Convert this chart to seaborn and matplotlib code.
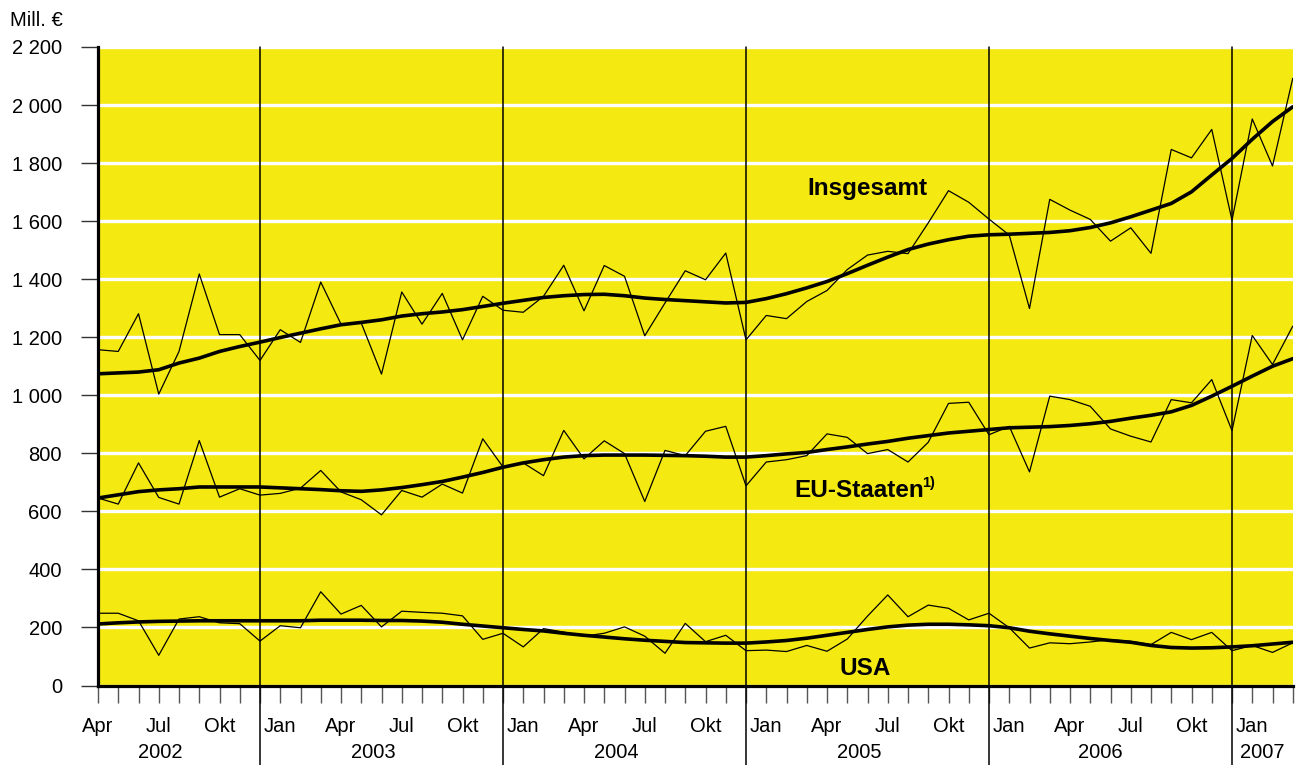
import numpy as np
import pandas as pd
import matplotlib
matplotlib.use("Agg")
import matplotlib.pyplot as plt
import matplotlib.transforms as mtransforms
import seaborn as sns

# ---------------- data ----------------
month_names = ["Jan", "Feb", "Mär", "Apr", "Mai", "Jun", "Jul", "Aug", "Sep", "Okt", "Nov", "Dez"]
labelled_months = ["Jan", "Apr", "Jul", "Okt"]
years = ["2002", "2003", "2004", "2005", "2006", "2007"]
start_month = 3  # April (0-based index into month_names)
start_year = 2002

ins_raw = [1157, 1151, 1281, 1004, 1151, 1418, 1209, 1209, 1120, 1226,
           1182, 1390, 1245, 1249, 1073, 1356, 1245, 1351, 1191, 1341,
           1293, 1286, 1341, 1448, 1291, 1447, 1410, 1205, 1318, 1429,
           1398, 1490, 1191, 1275, 1264, 1323, 1361, 1433, 1483, 1496,
           1488, 1594, 1705, 1665, 1607, 1552, 1299, 1675, 1638, 1606,
           1531, 1577, 1489, 1847, 1818, 1916, 1603, 1952, 1790, 2092]
ins_trend = [1074, 1077, 1080, 1088, 1111, 1128, 1151, 1168, 1183, 1199,
             1214, 1229, 1243, 1251, 1260, 1273, 1281, 1287, 1295, 1306,
             1317, 1327, 1337, 1343, 1347, 1348, 1343, 1335, 1330, 1326,
             1322, 1318, 1320, 1333, 1350, 1370, 1392, 1419, 1448, 1476,
             1502, 1521, 1536, 1548, 1553, 1555, 1558, 1561, 1567, 1578,
             1594, 1615, 1638, 1661, 1701, 1759, 1816, 1882, 1943, 1994]

eu_raw = [646, 625, 767, 648, 625, 844, 649, 678, 656, 662,
          680, 741, 667, 640, 588, 672, 649, 694, 663, 850,
          753, 767, 723, 879, 781, 843, 799, 634, 810, 792,
          876, 893, 688, 770, 778, 792, 867, 855, 799, 813,
          770, 838, 972, 976, 864, 893, 736, 997, 985, 962,
          884, 859, 839, 985, 974, 1054, 878, 1206, 1106, 1238]
eu_trend = [646, 657, 668, 674, 678, 684, 684, 684, 684, 681,
            678, 675, 671, 669, 674, 682, 692, 703, 718, 734,
            752, 767, 778, 787, 792, 794, 794, 794, 793, 792,
            790, 787, 787, 792, 798, 803, 813, 822, 832, 841,
            852, 861, 870, 876, 882, 888, 890, 892, 896, 902,
            910, 921, 931, 943, 965, 997, 1031, 1066, 1100, 1126]

usa_raw = [249, 249, 223, 104, 229, 237, 216, 213, 153, 206,
           199, 323, 246, 276, 202, 256, 252, 249, 240, 159,
           180, 133, 196, 184, 170, 180, 202, 170, 111, 214,
           151, 173, 120, 122, 117, 138, 118, 160, 239, 312,
           237, 277, 266, 226, 249, 199, 129, 147, 144, 150,
           158, 152, 141, 183, 158, 183, 120, 138, 114, 147]
usa_trend = [212, 216, 219, 221, 222, 223, 223, 223, 223, 223,
             223, 225, 225, 225, 224, 224, 222, 218, 211, 205,
             199, 193, 188, 180, 173, 167, 161, 156, 152, 148,
             147, 146, 146, 150, 155, 163, 173, 183, 193, 202,
             208, 211, 211, 209, 206, 199, 187, 178, 170, 162,
             155, 149, 138, 131, 129, 130, 133, 137, 143, 149]

# ---------------- derived ----------------
n = len(ins_raw)
x = np.arange(n)
month_seq = [month_names[(start_month + i) % 12] for i in range(n)]
year_seq = [start_year + (start_month + i) // 12 for i in range(n)]
df = pd.DataFrame({"idx": x, "month": month_seq, "year": year_seq,
                   "ins_raw": ins_raw, "ins_trend": ins_trend,
                   "eu_raw": eu_raw, "eu_trend": eu_trend,
                   "usa_raw": usa_raw, "usa_trend": usa_trend})

# ---------------- style ----------------
sns.set_theme(style="white")
plt.rcParams["font.family"] = ["Liberation Sans", "DejaVu Sans"]
plt.rcParams["text.color"] = "black"
plt.rcParams["xtick.labelcolor"] = "black"
plt.rcParams["ytick.labelcolor"] = "black"

W, H = 1299, 765
fig = plt.figure(figsize=(W / 100, H / 100), dpi=100)
left_px, right_px, top_px, bot_px = 98, 1292.75, 47, 685.5
ax = fig.add_axes([left_px / W, 1 - bot_px / H, (right_px - left_px) / W, (bot_px - top_px) / H])

yellow = "#F5E912"
ax.set_facecolor(yellow)
ax.set_xlim(0, n - 1)
ax.set_ylim(0, 2200)

yt = np.arange(0, 2201, 200)
ax.set_yticks(yt)
ax.set_yticklabels([f"{v:,}".replace(",", " ") for v in yt])
ax.yaxis.grid(True, color="white", linewidth=2.4)
ax.xaxis.grid(False)
ax.set_axisbelow(True)

for raw, trend in [("ins_raw", "ins_trend"), ("eu_raw", "eu_trend"), ("usa_raw", "usa_trend")]:
    sns.lineplot(data=df, x="idx", y=raw, ax=ax, color="black", linewidth=0.9, zorder=3)
    sns.lineplot(data=df, x="idx", y=trend, ax=ax, color="black", linewidth=2.6, zorder=4)

ax.set_xlabel("")
ax.set_ylabel("")

# year separator lines (at each December)
for i in df.index[df["month"] == "Dez"]:
    ax.axvline(i, ymin=-0.125, ymax=1, color="black", linewidth=1.1, clip_on=False, zorder=5)

# x ticks: every month, labels every quarter
ax.set_xticks(x)
ax.set_xticklabels([m if m in labelled_months else "" for m in month_seq])
ax.tick_params(axis="x", which="major", bottom=True, length=12.5, width=1.0,
               color="#555555", pad=10.5, labelsize=14.5, labelcolor="black")
ax.tick_params(axis="y", which="major", left=True, length=12.5, width=1.0,
               color="#333333", pad=13.5, labelsize=14.5, labelcolor="black")

for s in ["top", "right"]:
    ax.spines[s].set_visible(False)
for s in ["left", "bottom"]:
    ax.spines[s].set_color("black")
    ax.spines[s].set_linewidth(2.3)
    ax.spines[s].set_zorder(6)

# year labels under months
trans = mtransforms.blended_transform_factory(ax.transData, ax.transAxes)
year_label_x = [3.05, 13.6, 25.6, 37.6, 49.5, 57.5]
for yr, xp in zip(years, year_label_x):
    ax.text(xp, -0.105, yr, transform=trans, ha="center", va="center", fontsize=14.5)

# series labels
ax.text(38.0, 1690, "Insgesamt", ha="center", va="baseline", fontsize=17.5, fontweight="bold", zorder=7)
ax.text(40.8, 649, "EU-Staaten", ha="right", va="baseline", fontsize=17.5, fontweight="bold", zorder=7)
ax.text(40.72, 683, "1)", ha="left", va="baseline", fontsize=10.5, fontweight="bold", zorder=7)
ax.text(37.9, 36, "USA", ha="center", va="baseline", fontsize=17.5, fontweight="bold", zorder=7)

fig.text(10 / W, 1 - 20 / H, "Mill. €", ha="left", va="center", fontsize=14.5)

fig.savefig("out.png", dpi=100, facecolor="white")
